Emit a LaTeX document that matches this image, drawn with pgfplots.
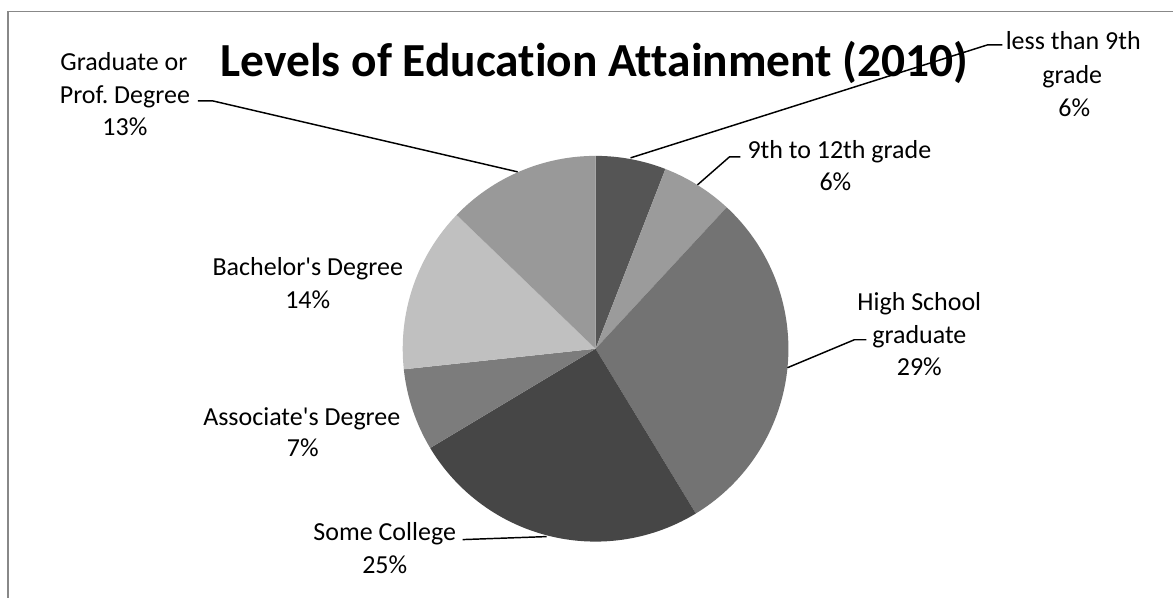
\documentclass[border=0pt]{standalone}
\usepackage{pgfplots}
\pgfplotsset{compat=1.18}
\usepackage{fontspec}
\setmainfont[Ligatures=NoCommon]{Carlito}

% slice shades
\definecolor{s1}{RGB}{85,85,85}
\definecolor{s2}{RGB}{155,155,155}
\definecolor{s3}{RGB}{115,115,115}
\definecolor{s4}{RGB}{70,70,70}
\definecolor{s5}{RGB}{124,124,124}
\definecolor{s6}{RGB}{192,192,192}
\definecolor{s7}{RGB}{153,153,153}
\definecolor{frame}{RGB}{136,136,136}

% share of each group, percent (cumulative start/end used for the slices)
% less than 9th 5.9 | 9th-12th 6.0 | HS 29.4 | some college 25.1
% associate 6.9 | bachelor 13.9 | graduate 12.8

\newcommand{\R}{144.75pt}
\newcommand{\lblfont}{\fontsize{19.5}{24.5}\selectfont}
\newcommand{\lbl}[3]{\node[anchor=base,inner sep=0pt,font=\lblfont] at (axis cs:#1,#2) {#3};}
\newcommand{\slice}[3]{%
  \fill[#1] (axis cs:596,249) -- ++({90-3.6*#2}:\R)
    arc[start angle={90-3.6*#2}, end angle={90-3.6*#3}, radius=\R] -- cycle;}

\frenchspacing
\begin{document}
\begin{tikzpicture}
\begin{axis}[
    width=880.5pt, height=448.5pt,
    scale only axis,
    xmin=0, xmax=1174,
    ymin=0, ymax=598,
    axis lines=none,
    clip=false,
  ]
  \fill[white] (axis cs:0,0) rectangle (axis cs:1174,598);
  \draw[frame, line width=1.3pt] (axis cs:8,0) -- (axis cs:8,586.5) -- (axis cs:1174,586.5);

  % pie, clockwise from 12 o'clock
  \slice{s1}{0}{5.9}
  \slice{s2}{5.9}{11.9}
  \slice{s3}{11.9}{41.3}
  \slice{s4}{41.3}{66.4}
  \slice{s5}{66.4}{73.3}
  \slice{s6}{73.3}{87.2}
  \slice{s7}{87.2}{100}

  \node[anchor=base,inner sep=0pt,font=\fontsize{35.6}{42}\selectfont\bfseries]
    at (axis cs:595,521) {Levels of Education Attainment (2010)};

  % leader lines
  \draw[line width=1.1pt] (axis cs:518,426) -- (axis cs:213,497) -- (axis cs:198,497);
  \draw[line width=1.1pt] (axis cs:631,440) -- (axis cs:988,553) -- (axis cs:1003,553);
  \draw[line width=1.1pt] (axis cs:698,413) -- (axis cs:730,441) -- (axis cs:741,441);
  \draw[line width=1.1pt] (axis cs:788,230) -- (axis cs:855,258) -- (axis cs:867,258);
  \draw[line width=1.1pt] (axis cs:547,61) -- (axis cs:463,58);

  % data labels
  \lbl{124}{527}{Graduate or}
  \lbl{125}{494}{Prof. Degree}
  \lbl{125}{462}{13\%}
  \lbl{1074}{548}{less than 9th}
  \lbl{1073}{514}{grade}
  \lbl{1075}{481}{6\%}
  \lbl{840}{439}{9th to 12th grade}
  \lbl{836}{407}{6\%}
  \lbl{920}{287}{High School}
  \lbl{920}{254}{graduate}
  \lbl{920}{222}{29\%}
  \lbl{385}{57}{Some College}
  \lbl{385}{24}{25\%}
  \lbl{302}{172}{Associate\textquotesingle s Degree}
  \lbl{303}{141}{7\%}
  \lbl{308}{322}{Bachelor\textquotesingle s Degree}
  \lbl{308}{289}{14\%}
\end{axis}
\end{tikzpicture}
\end{document}
